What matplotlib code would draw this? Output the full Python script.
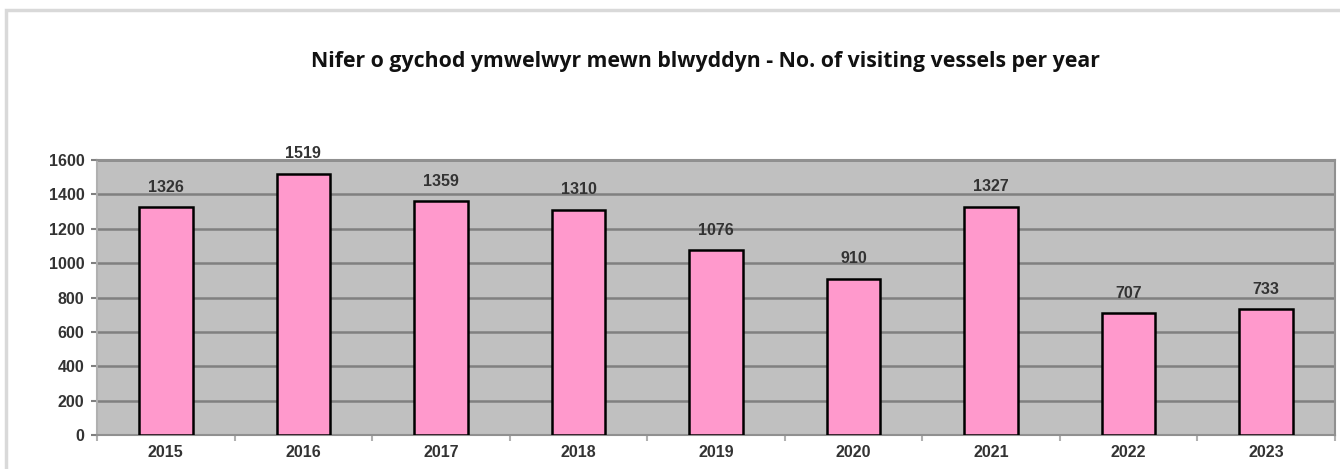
import matplotlib.pyplot as plt
from matplotlib.patches import Rectangle
import numpy as np

years = ["2015", "2016", "2017", "2018", "2019", "2020", "2021", "2022", "2023"]
vessels = [1326, 1519, 1359, 1310, 1076, 910, 1327, 707, 733]
title = "Nifer o gychod ymwelwyr mewn blwyddyn - No. of visiting vessels per year"

fig = plt.figure(figsize=(13.4, 4.69), dpi=100)
# outer chart frame
fig.patches.append(Rectangle((6/1340, -0.1), 1.2, 1.1 - 10/469, transform=fig.transFigure,
                             fill=False, edgecolor="#d9d9d9", linewidth=2.5))

ax = fig.add_axes([97/1340, 34/469, (1335-97)/1340, (435-160)/469])
ax.set_facecolor("#c0c0c0")

x = np.arange(len(years))
ax.bar(x, vessels, width=0.39, color="#ff99cc", edgecolor="black", linewidth=1.8, zorder=3)

for xi, v in zip(x, vessels):
    ax.annotate(str(v), (xi, v), xytext=(0, 9), textcoords="offset points",
                ha="center", va="bottom", fontsize=11.5, family="Liberation Sans",
                fontweight="bold", color="#333333")

ax.set_xlim(-0.5, len(years) - 0.5)
ax.set_ylim(0, 1600)
ax.set_yticks(range(0, 1601, 200))
ax.yaxis.grid(True, color="#808080", linewidth=1.8, zorder=1)
ax.set_axisbelow(True)

ax.set_xticks(x)
ax.set_xticklabels(years)
ax.set_xticks(np.arange(-0.5, len(years), 1), minor=True)
ax.tick_params(axis="x", which="major", length=0, pad=7)
ax.tick_params(axis="x", which="minor", length=4, color="#b0b0b0", width=1.5, direction="out")
ax.tick_params(axis="y", length=4, color="#808080", width=1.5, pad=5)
for lab in ax.get_xticklabels() + ax.get_yticklabels():
    lab.set_fontfamily("Liberation Sans")
    lab.set_fontsize(11.5)
    lab.set_fontweight("bold")
    lab.set_color("#333333")

for side in ["top", "right"]:
    ax.spines[side].set_color("#909090")
    ax.spines[side].set_linewidth(1.5)
ax.spines["left"].set_color("#b0b0b0")
ax.spines["left"].set_linewidth(1.5)
ax.spines["bottom"].set_color("#909090")
ax.spines["bottom"].set_linewidth(1.5)

fig.text(705/1340, 1 - 62/469, title, ha="center", va="center",
         fontsize=15.3, fontweight="bold", family="Open Sans", color="#111111")

fig.savefig("out.png", dpi=100)
